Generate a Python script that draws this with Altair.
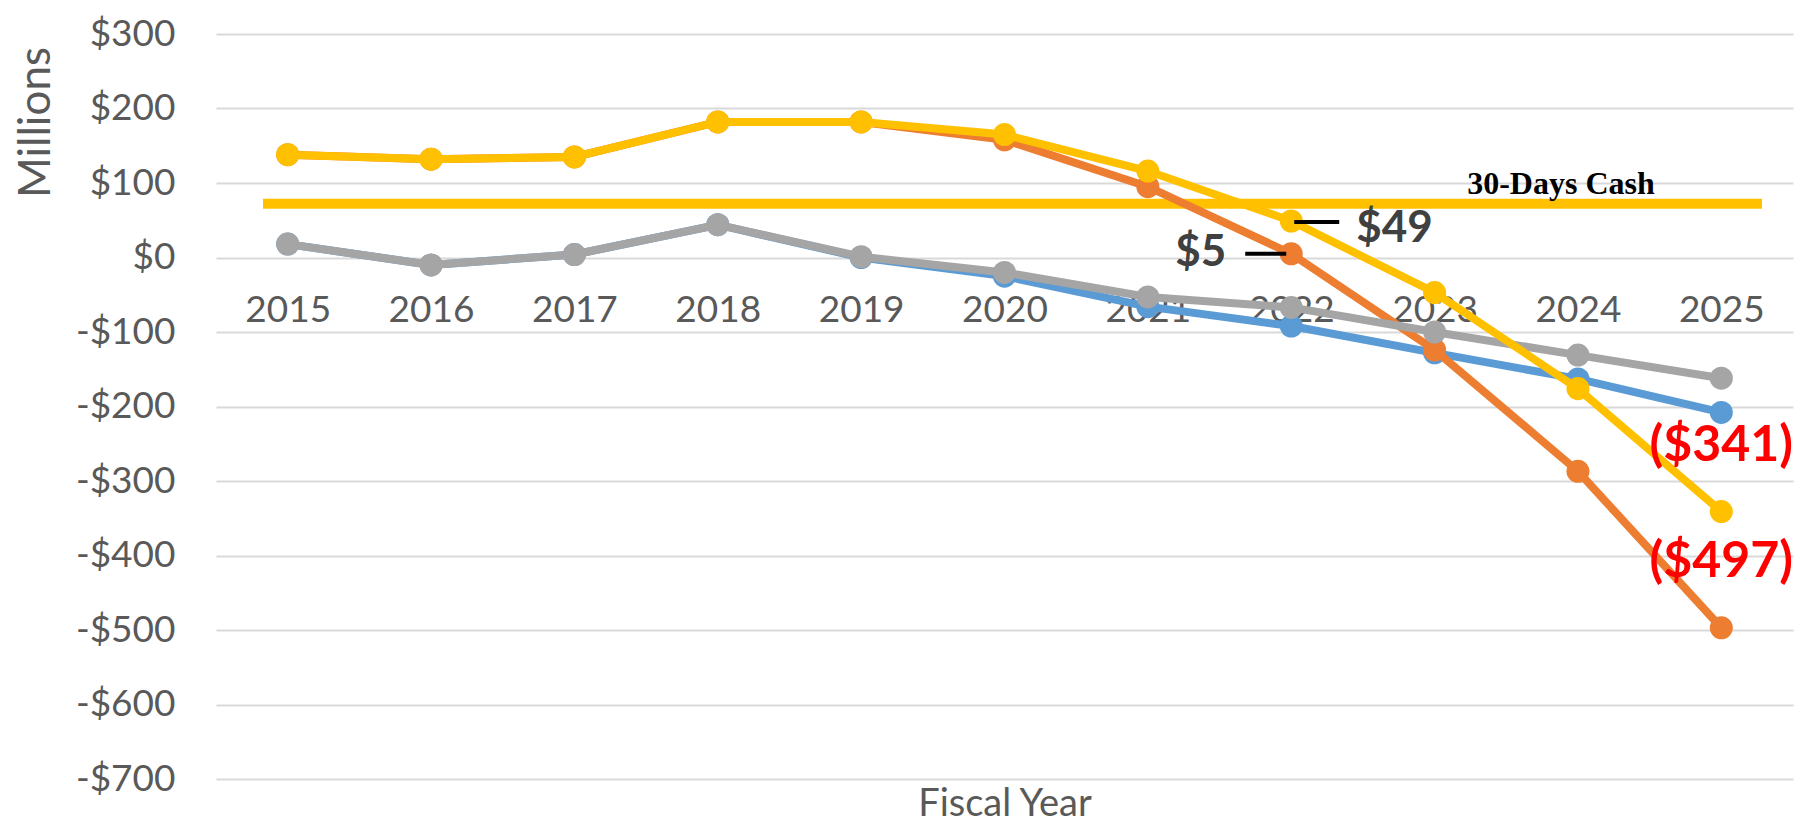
import altair as alt
import pandas as pd

# ---- data ----
years = ["2015", "2016", "2017", "2018", "2019", "2020", "2021", "2022", "2023", "2024", "2025"]
series_blue = [18, -10, 4, 44, 0, -25, -66, -92, -128, -163, -208]
series_orange = [138, 132, 135, 182, 182, 158, 95, 5, -124, -287, -497]
series_gray = [18, -10, 4, 44, 1, -20, -53, -67, -100, -131, -162]
series_gold = [138, 132, 135, 182, 182, 165, 116, 49, -47, -176, -341]

cash_30_days = 72
cash_label = "30-Days Cash"

y_ticks = [-700, -600, -500, -400, -300, -200, -100, 0, 100, 200, 300]

label_years = ["2022", "2022", "2025", "2025"]
label_values = [5, 49, -341, -497]
label_texts = ["$5", "$49", "($341)", "($497)"]

# ---- styles ----
FONT = "Lato"
GRAY_TXT = "#595959"
colors = {"blue": "#5B9BD5", "orange": "#ED7D31", "gray": "#A5A5A5", "gold": "#FFC000"}

W, H = 1577, 745

xdef = alt.X(
    "year:O",
    scale=alt.Scale(type="point", padding=0.5, domain=years),
    axis=alt.Axis(
        title="Fiscal Year", labelAngle=0, labelFont=FONT, labelFontSize=37,
        labelColor=GRAY_TXT, labelPadding=0, labelBaseline="middle",
        offset=-469, domain=False, ticks=False, grid=False,
        titleFont=FONT, titleFontSize=38, titleColor=GRAY_TXT, titleFontWeight="normal",
        titleY=494, titleBaseline="middle",
    ),
)
ydef = alt.Y(
    "value:Q",
    scale=alt.Scale(domain=[-700, 300], nice=False, zero=False),
    axis=alt.Axis(
        values=y_ticks,
        labelExpr="datum.value < 0 ? '-$' + abs(datum.value) : '$' + datum.value",
        grid=True, gridColor="#D9D9D9", gridWidth=2, domain=False, ticks=False,
        labelPadding=41, labelFont=FONT, labelFontSize=37, labelColor=GRAY_TXT,
        title="Millions", titleFont=FONT, titleFontSize=44, titleColor=GRAY_TXT,
        titleFontWeight="normal", titleX=-180, titleY=88, titleAngle=270,
        titleAlign="center", titleBaseline="middle",
    ),
)


def series_layer(vals, color):
    df = pd.DataFrame({"year": years, "value": vals})
    base = alt.Chart(df).encode(x=xdef, y=ydef)
    line = base.mark_line(color=color, strokeWidth=8)
    pts = base.mark_point(color=color, filled=True, opacity=1, size=530)
    return line + pts


layers = [
    series_layer(series_blue, colors["blue"]),
    series_layer(series_orange, colors["orange"]),
    series_layer(series_gray, colors["gray"]),
    series_layer(series_gold, colors["gold"]),
]

cash_df = pd.DataFrame({"year": ["2024"], "value": [cash_30_days], "label": [cash_label]})
cash_rule = alt.Chart(cash_df).mark_rule(color=colors["gold"], strokeWidth=10).encode(
    y=ydef, x=alt.value(47), x2=alt.value(1546)
)
cash_text = alt.Chart(cash_df).mark_text(
    font="Liberation Serif", fontWeight="bold", fontSize=32, color="black",
    align="center", baseline="alphabetic", dx=-17, dy=-10,
).encode(x=xdef, y=ydef, text="label:N")

ann = pd.DataFrame({"year": label_years, "value": label_values, "label": label_texts})
a5 = ann.iloc[[0]]
a49 = ann.iloc[[1]]
ared = ann.iloc[[2, 3]]

lead5 = alt.Chart(a5).mark_rule(color="black", strokeWidth=4, xOffset=-46, x2Offset=-5).encode(
    x=xdef, x2="year:O", y=ydef
)
lead49 = alt.Chart(a49).mark_rule(color="black", strokeWidth=4, xOffset=3, x2Offset=48, yOffset=1).encode(
    x=xdef, x2="year:O", y=ydef
)
t5 = alt.Chart(a5).mark_text(
    font=FONT, fontSize=44, fontWeight="bold", color="#404040", align="right",
    baseline="middle", dx=-65, dy=-1
).encode(x=xdef, y=ydef, text="label:N")
t49 = alt.Chart(a49).mark_text(
    font=FONT, fontSize=44, fontWeight="bold", color="#404040", align="left",
    baseline="middle", dx=65, dy=8
).encode(x=xdef, y=ydef, text="label:N")
tred = alt.Chart(ared).mark_text(
    font=FONT, fontSize=50, fontWeight="bold", color="#FF0000", align="center",
    baseline="middle", dy=-66,
).encode(x=xdef, y=ydef, text="label:N")

chart = alt.layer(
    cash_rule, cash_text, *layers, lead5, lead49, t5, t49, tred
).properties(
    width=W, height=H,
    padding={"left": 208, "top": 26, "right": 12, "bottom": 48},
    autosize=alt.AutoSizeParams(type="none"),
    background="white",
).configure_view(stroke=None)

chart.save("out.html", embed_options={"renderer": "svg", "actions": False})
